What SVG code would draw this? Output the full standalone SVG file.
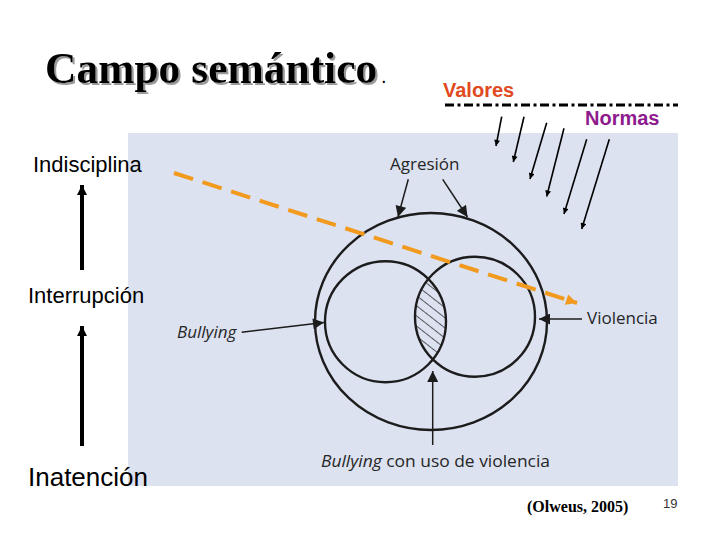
<svg xmlns="http://www.w3.org/2000/svg" width="720" height="540" viewBox="0 0 720 540">
  <style>
    .side { font-family: "Liberation Sans", Arial, sans-serif; fill: #000; }
    .scan { font-family: "Open Sans", "Liberation Sans", sans-serif; font-size: 17px; fill: #262626; }
    .ink { fill: none; stroke: #1c1c1c; stroke-width: 2.4; }
    .thin { fill: none; stroke: #1c1c1c; stroke-width: 1.5; }
    .norm { fill: none; stroke: #000; stroke-width: 1.6; }
    .big { fill: none; stroke: #000; stroke-width: 4; }
  </style>
  <defs>
    <filter id="shadow" x="-5%" y="-20%" width="110%" height="140%">
      <feDropShadow dx="2" dy="2" stdDeviation="0.3" flood-color="#9a9a9a" flood-opacity="1"/>
    </filter>
    <marker id="tri" viewBox="0 0 10 10" refX="10" refY="5" markerUnits="userSpaceOnUse" markerWidth="13" markerHeight="11" orient="auto">
      <path d="M0,0 L10,5 L0,10 z" fill="#1c1c1c"/>
    </marker>
    <marker id="small" viewBox="0 0 10 10" refX="10" refY="5" markerUnits="userSpaceOnUse" markerWidth="7" markerHeight="6" orient="auto">
      <path d="M0,0 L10,5 L0,10 z" fill="#000"/>
    </marker>
    <marker id="bigArrow" viewBox="0 0 10 10" refX="10" refY="5" markerUnits="userSpaceOnUse" markerWidth="11" markerHeight="10" orient="auto">
      <path d="M0,0 L10,5 L0,10 z" fill="#000"/>
    </marker>
    <marker id="orange" viewBox="0 0 10 10" refX="10" refY="5" markerUnits="userSpaceOnUse" markerWidth="13" markerHeight="11" orient="auto">
      <path d="M0,0 L10,5 L0,10 z" fill="#F29A1E"/>
    </marker>
    <clipPath id="clipL"><circle cx="385.5" cy="321.7" r="60.5"/></clipPath>
    <clipPath id="clipR"><circle cx="475" cy="316.7" r="60"/></clipPath>
    <pattern id="hatch" patternUnits="userSpaceOnUse" width="8" height="8" patternTransform="rotate(38)">
      <line x1="0" y1="0" x2="8" y2="0" stroke="#1c1c1c" stroke-width="1.4"/>
    </pattern>
  </defs>

  <rect width="720" height="540" fill="#ffffff"/>

  <!-- Title -->
  <g id="title">
    <text x="45" y="83" font-family="'Liberation Serif', 'Times New Roman', serif" font-weight="bold" font-size="43.5" fill="#000" filter="url(#shadow)">Campo semántico</text>
    <text x="381" y="83" class="side" font-size="20">.</text>
  </g>

  <!-- Scanned figure background -->
  <g id="scan-bg">
    <rect x="128" y="133" width="550" height="353" fill="#DCE2F0"/>
  </g>

  <!-- Venn nodes -->
  <g id="outer-agresion">
    <ellipse cx="431" cy="321.5" rx="116" ry="108.5" class="ink"/>
  </g>
  <g id="circle-bullying">
    <circle cx="385.5" cy="321.7" r="60.5" class="ink"/>
  </g>
  <g id="circle-violencia">
    <circle cx="475" cy="316.7" r="60" class="ink"/>
  </g>
  <g id="lens-hatch">
    <g clip-path="url(#clipL)">
      <rect x="380" y="250" width="110" height="140" fill="url(#hatch)" clip-path="url(#clipR)"/>
    </g>
  </g>

  <g id="label-agresion"><text x="390" y="170" class="scan">Agresión</text></g>
  <g id="label-bullying"><text x="177" y="338" class="scan" font-style="italic">Bullying</text></g>
  <g id="label-violencia"><text x="587" y="324" class="scan">Violencia</text></g>
  <g id="label-bullying-violencia"><text x="321" y="467" class="scan" textLength="229" lengthAdjust="spacingAndGlyphs"><tspan font-style="italic">Bullying</tspan> con uso de violencia</text></g>

  <!-- Side labels -->
  <g id="indisciplina"><text x="33" y="172" class="side" font-size="22">Indisciplina</text></g>
  <g id="interrupcion"><text x="28" y="303" class="side" font-size="22">Interrupción</text></g>
  <g id="inatencion"><text x="28" y="486" class="side" font-size="26">Inatención</text></g>

  <!-- Valores / Normas -->
  <g id="valores"><text x="443" y="97" font-family="'Liberation Sans', Arial, sans-serif" font-weight="bold" font-size="20" fill="#E04A1E">Valores</text></g>
  <g id="normas"><text x="585" y="125" font-family="'Liberation Sans', Arial, sans-serif" font-weight="bold" font-size="20" fill="#8E1B8E">Normas</text></g>

  <!-- Citation and page number -->
  <g id="cita"><text x="527" y="512" font-family="'Liberation Serif', 'Times New Roman', serif" font-weight="bold" font-size="16" fill="#000">(Olweus, 2005)</text></g>
  <g id="page"><text x="663" y="508" font-family="'Liberation Sans', Arial, sans-serif" font-size="13" fill="#333">19</text></g>

  <!-- Connectors -->
  <g id="connectors">
    <line x1="445" y1="105" x2="678" y2="105" stroke="#000" stroke-width="3" stroke-dasharray="9 3.5 3 3.5"/>

    <line x1="501.7" y1="116.7" x2="496" y2="146" class="norm" marker-end="url(#small)"/>
    <line x1="524" y1="116.7" x2="513.3" y2="162" class="norm" marker-end="url(#small)"/>
    <line x1="546.7" y1="122.7" x2="530" y2="179" class="norm" marker-end="url(#small)"/>
    <line x1="564" y1="128.3" x2="546.7" y2="196.5" class="norm" marker-end="url(#small)"/>
    <line x1="586.7" y1="139.3" x2="564" y2="214" class="norm" marker-end="url(#small)"/>
    <line x1="609.3" y1="139.3" x2="581.7" y2="229" class="norm" marker-end="url(#small)"/>

    <line x1="408.3" y1="179.3" x2="398" y2="217" class="thin" marker-end="url(#tri)"/>
    <line x1="442.7" y1="179.3" x2="467.5" y2="217" class="thin" marker-end="url(#tri)"/>
    <line x1="241.7" y1="332.3" x2="324" y2="322.6" class="thin" marker-end="url(#tri)"/>
    <line x1="582" y1="319" x2="539" y2="319" class="thin" marker-end="url(#tri)"/>
    <line x1="432.7" y1="445" x2="432.7" y2="371" class="thin" marker-end="url(#tri)"/>

    <line x1="82" y1="270" x2="82" y2="185" class="big" marker-end="url(#bigArrow)"/>
    <line x1="82" y1="446" x2="82" y2="326" class="big" marker-end="url(#bigArrow)"/>

    <line x1="174" y1="173" x2="577" y2="303" stroke="#F29A1E" stroke-width="4" stroke-dasharray="20 10" marker-end="url(#orange)"/>
  </g>
</svg>
